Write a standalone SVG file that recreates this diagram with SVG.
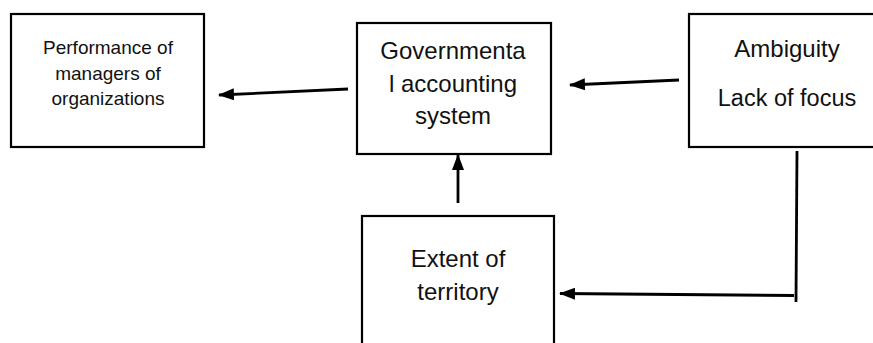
<svg xmlns="http://www.w3.org/2000/svg" width="873" height="343" viewBox="0 0 873 343">
<style>
.box{fill:#fff;stroke:#000;stroke-width:2.2}
.t{font-family:"Liberation Sans",Arial,sans-serif;fill:#111;text-anchor:middle}
.s{font-size:19px}
.m{font-size:24px}
.c{stroke:#000;stroke-width:2.8;fill:none}
</style>
<defs>
<marker id="ah2" markerWidth="16" markerHeight="12" refX="15" refY="6" orient="auto" markerUnits="userSpaceOnUse" viewBox="0 0 16 12">
<path d="M0,0 L16,6 L0,12 Z" fill="#000"/>
</marker>
</defs>
<g id="perf">
<rect class="box" x="11" y="14" width="193" height="133"/>
<text class="t s" x="108" y="54">Performance of</text>
<text class="t s" x="108" y="80">managers of</text>
<text class="t s" x="108" y="105">organizations</text>
</g>
<g id="gov">
<rect class="box" x="357" y="23" width="194" height="131"/>
<text class="t m" x="453" y="59">Governmenta</text>
<text class="t m" x="453" y="92">l accounting</text>
<text class="t m" x="453" y="124">system</text>
</g>
<g id="amb">
<rect class="box" x="689" y="14" width="200" height="133"/>
<text class="t m" x="787" y="57">Ambiguity</text>
<text class="t m" x="787" y="106" style="font-size:23.5px">Lack of focus</text>
</g>
<g id="ext">
<rect class="box" x="362" y="216" width="192" height="140"/>
<text class="t m" x="458" y="267">Extent of</text>
<text class="t m" x="458" y="300">territory</text>
</g>
<g id="connectors">
<line class="c" x1="348" y1="89" x2="219" y2="95" marker-end="url(#ah2)"/>
<line class="c" x1="679" y1="80" x2="570" y2="85" marker-end="url(#ah2)"/>
<line class="c" x1="458" y1="203" x2="458" y2="155" marker-end="url(#ah2)"/>
<line class="c" x1="797" y1="151" x2="796" y2="302"/>
<line class="c" x1="794" y1="295.5" x2="560" y2="293.5" marker-end="url(#ah2)"/>
</g>
</svg>
